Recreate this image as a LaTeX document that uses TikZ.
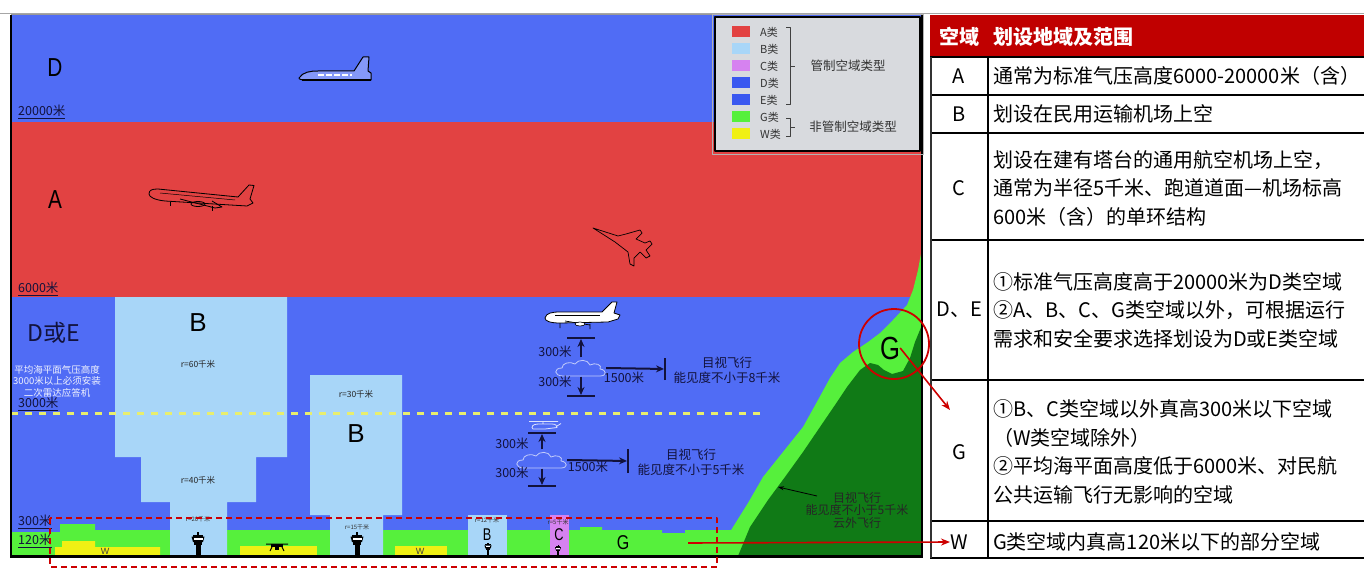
\documentclass[tikz,border=0pt]{standalone}
\usepackage{fontspec}
\setmainfont{Noto Sans CJK SC}
\newfontfamily\lsans{Liberation Sans}
\usetikzlibrary{arrows.meta}

\definecolor{skyD}{RGB}{80,108,245}
\definecolor{deepE}{RGB}{58,88,240}
\definecolor{bandA}{RGB}{226,66,66}
\definecolor{zoneB}{RGB}{168,214,248}
\definecolor{zoneC}{RGB}{214,130,240}
\definecolor{zoneG}{RGB}{86,240,60}
\definecolor{zoneW}{RGB}{240,240,20}
\definecolor{hill}{RGB}{16,122,22}
\definecolor{legbg}{RGB}{216,218,222}
\definecolor{hdr}{RGB}{192,0,0}
\definecolor{redmark}{RGB}{205,0,0}
\definecolor{navy}{RGB}{18,18,60}
\definecolor{dashyel}{RGB}{232,238,110}

\tikzset{
  altlabel/.style={font=\fontsize{12.5}{13}\selectfont, text=navy, anchor=west, inner sep=0},
  notetxt/.style={font=\fontsize{12.5}{15}\selectfont, text=navy, inner sep=0, align=center},
  smalltag/.style={font=\fontsize{6}{6}\selectfont, text=black!80, inner sep=0},
  rlab/.style={font=\fontsize{8.5}{9}\selectfont, text=black!85, inner sep=0},
  zonetxt/.style={font=\lsans\fontsize{26}{26}\selectfont, text=black, inner sep=0},
  legitem/.style={font=\fontsize{11}{11}\selectfont, text=black!80, anchor=west, inner sep=0},
  leggroup/.style={font=\fontsize{12.5}{12.5}\selectfont, text=black!80, inner sep=0},
  cellbox/.style={font=\fontsize{20}{28.5}\selectfont, anchor=west, align=left, inner sep=0},
  keytxt/.style={font=\fontsize{20}{20}\selectfont, inner sep=0},
  hdtxt/.style={font=\bfseries\fontsize{20}{20}\selectfont, text=white, inner sep=0},
  gridline/.style={line width=1.8, black},
  flowarrow/.style={line width=2, navy, -{Stealth[length=8pt,width=7pt]}, shorten >=1pt},
  barline/.style={line width=2.4, navy},
  callout/.style={line width=1.6, redmark, -{Stealth[length=9pt,width=7pt]}},
  cloudspot/.style={minimum width=50pt, minimum height=17pt, inner sep=0},
  outline/.style={draw=black, line width=.8},
  tower/.pic={
    \fill[black] (-2.5,0) rectangle (2.5,-11);
    \fill[black] (-4,-11) rectangle (4,-14);
    \fill[black] (-6.5,-19.5) -- (6.5,-19.5) -- (5,-14) -- (-5,-14) -- cycle;
    \fill[white] (-4.5,-16) rectangle (4.5,-17.8);
    \fill[black] (-5,-19.5) rectangle (5,-21.5);
    \fill[black] (-1,-21.5) rectangle (1,-24);
  },
  cumulus/.pic={
    \filldraw[fill=skyD, draw=skyD!35!white, line width=.8]
      (-18,8) .. controls (-27,8) and (-28,0) .. (-19,0)
      .. controls (-19,-5) and (-11,-7) .. (-6,-4)
      .. controls (-3,-9) and (7,-9) .. (9,-3)
      .. controls (14,-6) and (22,-3) .. (19,1)
      .. controls (26,2) and (26,8) .. (19,8) -- cycle;
  }
}

\begin{document}
\begin{tikzpicture}[x=1pt,y=-1pt,line join=round]
\useasboundingbox (0,0) rectangle (1364,577);

% ---------- airspace bands ----------
\fill[skyD] (11,15) rectangle (922,556);
\fill[bandA] (11,122) rectangle (922,297);

% ground level (class G) and W patches
\fill[zoneG] (11,556) -- (11,532) -- (60,532) -- (60,524) -- (95,524) -- (95,530) -- (580,530)
  -- (580,527) -- (602,527) -- (602,530) -- (662,530) -- (662,533) -- (685,533) -- (685,530)
  -- (745,530) -- (745,556) -- cycle;
\fill[zoneW] (55,556) -- (55,547) -- (62,547) -- (62,541) -- (95,541) -- (95,547) -- (160,547) -- (160,556) -- cycle;
\fill[zoneW] (240,546) rectangle (317,556);
\fill[zoneW] (395,546) rectangle (447,556);

% class B airports
\fill[zoneB] (115,297) -- (287,297) -- (287,457) -- (256,457) -- (256,502) -- (227,502) -- (227,556)
  -- (170,556) -- (170,502) -- (141,502) -- (141,457) -- (115,457) -- cycle;
\fill[zoneB] (310,375) -- (402,375) -- (402,515) -- (383,515) -- (383,556) -- (330,556) -- (330,515) -- (310,515) -- cycle;
\fill[zoneB] (468,515) rectangle (507,556);
% class C airport
\fill[zoneC] (550,515) rectangle (569,556);

% terrain on the right
\fill[zoneG] (712,556) -- (722,545) -- (733,527) -- (748,503) -- (763,477) -- (783,452) -- (803,427)
  -- (818,400) -- (830,378) -- (840,363) -- (853,352) -- (868,342) -- (880,333) -- (893,320)
  -- (907,305) -- (913,290) -- (918,270) -- (922,248) -- (922,556) -- cycle;
\fill[hill] (738,556) -- (750,527) -- (768,500) -- (785,477) -- (803,452) -- (820,427) -- (835,405)
  -- (847,387) -- (860,370) -- (870,363) -- (878,365) -- (884,370) -- (892,374) -- (903,371)
  -- (910,358) -- (915,342) -- (922,325) -- (922,556) -- cycle;

% 3000 m boundary
\draw[dashyel, line width=3, dash pattern=on 7pt off 7pt] (11,413) -- (765,413);

% ---------- frame ----------
\draw[gray!70, line width=1] (0,13.5) -- (1364,13.5);
\draw[gray!80, line width=1] (11,15) -- (922,15);
\draw[black, line width=2.5] (11,15) -- (11,557.5);
\draw[black, line width=2.5] (10,556.5) -- (923,556.5);
\draw[black, line width=2] (922,15) -- (922,557.5);

% ---------- aircraft ----------
% space shuttle
\filldraw[fill=skyD!70!white, draw=black, line width=1] (299,78) .. controls (303,72) and (310,71) .. (318,71)
  -- (354,71) -- (363,57) -- (369,57) -- (368,71) -- (371,73) -- (371,80) -- (306,80)
  .. controls (302,80) and (299,79.5) .. (299,78) -- cycle;
\draw[white, line width=1.3, dash pattern=on 6pt off 2pt] (318,75) -- (352,75);
\draw[black, line width=2] (302,80) -- (371,80);

% airliner climbing in class A
\draw[outline] (149,194) .. controls (149,190) and (152,189) .. (158,189) -- (238,197) -- (249,185)
  -- (254,185.5) -- (250,199) -- (253,203) -- (247,206) -- (165,201)
  .. controls (155,200) and (149,197) .. (149,194) -- cycle;
\draw[black, line width=.5] (160,193) -- (235,200);
\draw[outline] (180,199) -- (215,208) -- (222,207) -- (212,201);
\draw[outline] (198,204) ellipse [x radius=7pt, y radius=2.5pt];
\draw[outline] (170,202) -- (170,206) (212,206) -- (212,211);

% fighter jet
\draw[black, line width=.7] (593,228) -- (618,236) -- (626,234) -- (640,230) -- (642,233) -- (636,239)
  -- (645,243) -- (650,241) -- (652,244) -- (646,250) -- (650,256) -- (646,258) -- (640,252)
  -- (634,258) -- (634,266) -- (630,264) -- (628,252) -- (615,242) -- cycle;

% airliner above the 3000 m line
\filldraw[fill=white, draw=black, line width=.8] (545,318) .. controls (546,313) and (552,312) .. (560,312)
  -- (602,312) -- (612,302) -- (617,302) -- (614,313) -- (620,315) -- (618,319) -- (608,322)
  -- (560,323) .. controls (550,323) and (545,321) .. (545,318) -- cycle;
\draw[black, line width=.5] (555,315.5) -- (600,315.5);
\draw[black, line width=.7] (565,321) -- (590,325) (560,323) -- (560,328) (590,324) -- (590,329);
\filldraw[fill=white, draw=black, line width=.6] (580,324) ellipse [x radius=5pt, y radius=2pt];

% helicopter
\draw[skyD!20!white, line width=.8] (529,421.5) -- (558,421.5) (543,421.5) -- (543,424)
  (532,427.5) .. controls (532,424.5) and (536,424) .. (540,424) -- (552,424)
  .. controls (556,424) and (557,426) .. (557,427.5) -- (545,429) -- (533,429) -- cycle
  (557,426) -- (561,423.5);

% drone
\draw[black, line width=1] (266,544) -- (288,544) (272,547) -- (270,551) (282,547) -- (284,551);
\fill[black] (271,544) rectangle (283,547);
\fill[black] (275,546) rectangle (279,549.5);

% control towers
\pic at (198,556) {tower};
\pic at (357,556) {tower};
\pic[scale=.55] at (488,556) {tower};
\pic[scale=.45] at (558,556) {tower};

% ---------- zone letters and labels ----------
\node[zonetxt] (lD) at (55,68) {\scalebox{.8}[1]{D}};
\node[zonetxt] (lA) at (55,200) {\scalebox{.8}[1]{A}};
\node[font=\fontsize{23}{23}\selectfont, text=navy, inner sep=0] (lDE) at (54,333) {D或E};
\node[font=\fontsize{9.5}{11.5}\selectfont, text=white!92!skyD, inner sep=0, align=center] (radar) at (57,381)
  {平均海平面气压高度\\3000米以上必须安装\\二次雷达应答机};

\node[altlabel] (h20000) at (18,112) {\underline{20000米}};
\node[altlabel] (h6000) at (18,289) {\underline{6000米}};
\node[altlabel] (h3000) at (18,404) {\underline{3000米}};
\node[altlabel] (h300) at (18,522) {\underline{300米}};
\node[altlabel] (h120) at (18,541) {\underline{120米}};

\node[zonetxt] (lB1) at (198,323) {B};
\node[rlab] (r60) at (198,364) {r=60千米};
\node[rlab] (r40) at (198,480) {r=40千米};
\node[smalltag] (r20) at (198,519) {r=20千米};
\node[rlab] (r30) at (356,394) {r=30千米};
\node[zonetxt] (lB2) at (356,434) {B};
\node[smalltag] (r15) at (357,527) {r=15千米};
\node[smalltag] (r12) at (487,520) {r=12千米};
\node[smalltag] (r5) at (558,522) {r=5千米};
\node[font=\lsans\fontsize{17}{17}\selectfont, inner sep=0] (lB3) at (487,535) {\scalebox{.75}[1]{B}};
\node[font=\lsans\fontsize{17}{17}\selectfont, inner sep=0] (lC) at (559,535) {\scalebox{.75}[1]{C}};
\node[font=\lsans\fontsize{20}{20}\selectfont, inner sep=0] (lG) at (623,543) {\scalebox{.8}[1]{G}};
\node[font=\lsans\fontsize{9}{9}\selectfont, text=black!75, inner sep=0] (lW1) at (105,551) {W};
\node[font=\lsans\fontsize{9}{9}\selectfont, text=black!75, inner sep=0] (lW2) at (420,551) {W};

% ---------- visual flight minima, above 3000 m ----------
\pic at (581,368) {cumulus};
\node[cloudspot] (cl1) at (581,368) {};
\coordinate (t1) at (581,338);
\coordinate (b1) at (581,396);
\coordinate (e1) at (665,369);
\draw[barline] ([xshift=-14pt]t1) -- ([xshift=14pt]t1);
\draw[barline] ([xshift=-14pt]b1) -- ([xshift=14pt]b1);
\draw[barline] ([yshift=-11pt]e1) -- ([yshift=11pt]e1);
\draw[flowarrow] ([yshift=2pt]cl1.north) -- (t1);
\draw[flowarrow] (cl1.south) -- (b1);
\draw[flowarrow] (cl1.east) -- (e1);
\node[notetxt] (v1a) at (555,352) {300米};
\node[notetxt] (v1b) at (555,382) {300米};
\node[notetxt] (v1c) at (624,378) {1500米};
\node[notetxt] (v1d) at (727,370) {目视飞行\\能见度不小于8千米};

% ---------- visual flight minima, below 3000 m ----------
\pic at (542,460) {cumulus};
\node[cloudspot] (cl2) at (542,460) {};
\coordinate (t2) at (542,433);
\coordinate (b2) at (542,486);
\coordinate (e2) at (628,461);
\draw[barline] ([xshift=-14pt]t2) -- ([xshift=14pt]t2);
\draw[barline] ([xshift=-14pt]b2) -- ([xshift=14pt]b2);
\draw[barline] ([yshift=-12pt]e2) -- ([yshift=12pt]e2);
\draw[flowarrow] ([yshift=2pt]cl2.north) -- (t2);
\draw[flowarrow] (cl2.south) -- (b2);
\draw[flowarrow] (cl2.east) -- (e2);
\node[notetxt] (v2a) at (512,444) {300米};
\node[notetxt] (v2b) at (512,473) {300米};
\node[notetxt] (v2c) at (588,467) {1500米};
\node[notetxt] (v2d) at (691,462) {目视飞行\\能见度不小于5千米};

% ---------- terrain note ----------
\node[font=\fontsize{12}{12.5}\selectfont, text=black!85, inner sep=0, align=center] (mt) at (857,510)
  {目视飞行\\能见度不小于5千米\\云外飞行};
\coordinate (mtfoot) at (817,496);
\coordinate (mthead) at (778,487);
\draw[black, line width=.8, -{Stealth[length=6pt,width=4pt]}] (mtfoot) -- (mthead);

% ---------- legend ----------
\draw[gray!60, line width=.8] (712,14) rectangle (923,154);
\filldraw[fill=legbg, draw=black, line width=2.8] (715,17) rectangle (920,151);
\foreach \lab/\col/\yy [count=\i] in {A类/bandA/32, B类/zoneB/49, C类/zoneC/66, D类/deepE/83,
                                      E类/deepE/100, G类/zoneG/117, W类/zoneW/134} {
  \fill[\col] (732,\yy-5.5) rectangle (750,\yy+5.5);
  \node[legitem] (leg\i) at (760,\yy) {\lab};
}
\draw[black!75, line width=.8] (786,27) -- (790,27) -- (790,104) -- (786,104) (790,66) -- (795,66);
\draw[black!75, line width=.8] (786,118) -- (790,118) -- (790,136) -- (786,136) (790,127) -- (795,127);
\node[leggroup] (gctl) at (848,66) {管制空域类型};
\node[leggroup] (gfree) at (853,127) {非管制空域类型};

% ---------- table ----------
\fill[hdr] (930,15) rectangle (1364,57);
\foreach \yy in {57,95,133,240,380,521,558} \draw[gridline] (930,\yy) -- (1364,\yy);
\draw[gridline] (988,57) -- (988,558);
\draw[black!80, line width=1.5] (931,57) -- (931,558);

\node[hdtxt] (hk) at (959,37) {空域};
\node[hdtxt, anchor=west] (hv) at (993,37) {划设地域及范围};

\node[keytxt] (kA) at (959,76) {A};
\node[cellbox] (vA) at (993,76) {通常为标准气压高度6000-20000米（含）};
\node[keytxt] (kB) at (959,114) {B};
\node[cellbox] (vB) at (993,114) {划设在民用运输机场上空};
\node[keytxt] (kC) at (959,188) {C};
\node[cellbox] (vC) at (993,188) {划设在建有塔台的通用航空机场上空，\\通常为半径5千米、跑道道面—机场标高\\600米（含）的单环结构};
\node[keytxt] (kDE) at (959,310) {D、E};
\node[cellbox] (vDE) at (993,310) {①标准气压高度高于20000米为D类空域\\②A、B、C、G类空域以外，可根据运行\\需求和安全要求选择划设为D或E类空域};
\node[keytxt] (kG) at (959,452) {G};
\node[cellbox] (vG) at (993,452) {①B、C类空域以外真高300米以下空域\\（W类空域除外）\\②平均海平面高度低于6000米、对民航\\公共运输飞行无影响的空域};
\node[keytxt] (kW) at (959,542) {W};
\node[cellbox] (vW) at (993,542) {G类空域内真高120米以下的部分空域};

% ---------- highlights and callouts ----------
\draw[redmark, line width=1.8, dash pattern=on 6pt off 4pt] (50,518) rectangle (717,567);
\node[circle, draw=redmark, line width=1.8, minimum size=70pt, inner sep=0] (gring) at (894,344) {};
\node[font=\lsans\fontsize{32}{32}\selectfont, inner sep=0] (gtag) at (890,348) {\scalebox{.8}[1]{G}};
\coordinate (gtip) at (950,410);
\coordinate (wfoot) at (688,543);
\draw[callout] (gtag.east) -- (gtip);
\draw[callout] (wfoot) -- (kW.west);

\end{tikzpicture}
\end{document}
